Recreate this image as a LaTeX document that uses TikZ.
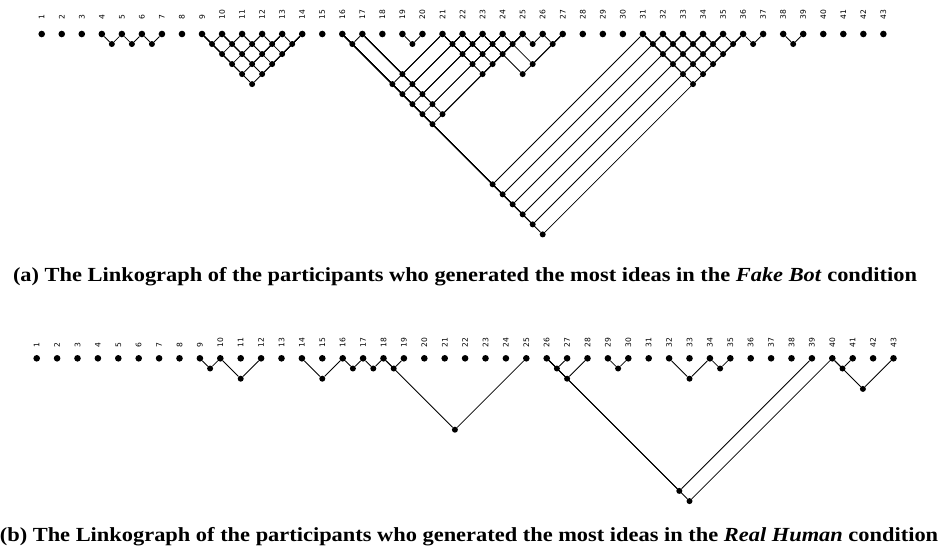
\documentclass[tikz,border=0pt]{standalone}
\usepackage{fontspec}
\usepackage{graphicx}
\setmainfont{Liberation Serif}
\newfontfamily\labfont{DejaVu Sans}
\usetikzlibrary{backgrounds}
\newsavebox\capboxa
\newsavebox\capboxb
\newcommand\capfont{\bfseries\fontsize{20}{24}\selectfont}
% top linkograph geometry
\newcommand\AX{41.7}\newcommand\AS{20.04}\newcommand\AY{34}\newcommand\AD{10.02}
% bottom linkograph geometry
\newcommand\BX{36.7}\newcommand\BS{20.4}\newcommand\BY{358.3}\newcommand\BD{10.2}
\newcommand\lkA[2]{%
  \node[jointdot] (a#1x#2) at ({\AX+((#1+#2)/2-1)*\AS},{\AY+(#2-#1)*\AD}) {};
  \begin{scope}[on background layer]\draw[lnk] (a#1) -- (a#1x#2) (a#2) -- (a#1x#2);\end{scope}}
\newcommand\lkB[2]{%
  \node[jointdot] (b#1x#2) at ({\BX+((#1+#2)/2-1)*\BS},{\BY+(#2-#1)*\BD}) {};
  \begin{scope}[on background layer]\draw[lnk] (b#1) -- (b#1x#2) (b#2) -- (b#1x#2);\end{scope}}
\begin{document}
\sbox\capboxa{\capfont (a) The Linkograph of the participants who generated the most ideas in the \textit{Fake Bot} condition}%
\sbox\capboxb{\capfont (b) The Linkograph of the participants who generated the most ideas in the \textit{Real Human} condition}%
\pgfmathsetmacro\capscale{904pt/\the\wd\capboxa}%
\begin{tikzpicture}[x=1pt,y=-1pt,
  ptdot/.style={circle,fill=black,inner sep=0pt,minimum size=6.6pt},
  jointdot/.style={circle,fill=black,inner sep=0pt,minimum size=6pt},
  lnk/.style={line width=0.85pt,black},
  numlab/.style={font=\labfont\fontsize{7.6}{8}\selectfont,rotate=90,anchor=west,inner sep=0pt},
  captext/.style={anchor=base,inner sep=0pt}]
\useasboundingbox (0,0) rectangle (939,554);
% ---- top: nodes and labels
\foreach \k in {1,...,43}{
  \node[ptdot] (a\k) at ({\AX+(\k-1)*\AS},\AY) {};
  \node[numlab] (la\k) at ({\AX+(\k-1)*\AS},19.5) {\k};
}
% ---- top: links
\lkA{4}{5}\lkA{5}{6}\lkA{6}{7}
\foreach \i in {9,...,13}{\pgfmathtruncatemacro\s{\i+1}\foreach \j in {\s,...,14}{\lkA{\i}{\j}}}
\lkA{16}{17}\lkA{19}{20}
\foreach \i in {16,17}{\foreach \j in {21,...,25}{\lkA{\i}{\j}}}
\foreach \i in {21,...,24}{\pgfmathtruncatemacro\s{\i+1}\foreach \j in {\s,...,25}{\lkA{\i}{\j}}}
\lkA{25}{26}\lkA{26}{27}\lkA{24}{27}\lkA{23}{27}
\foreach \j in {31,...,36}{\lkA{16}{\j}}
\foreach \i in {31,...,35}{\pgfmathtruncatemacro\s{\i+1}\foreach \j in {\s,...,36}{\lkA{\i}{\j}}}
\lkA{36}{37}\lkA{38}{39}
% ---- bottom: nodes and labels
\foreach \k in {1,...,43}{
  \node[ptdot] (b\k) at ({\BX+(\k-1)*\BS},\BY) {};
  \node[numlab] (lb\k) at ({\BX+(\k-1)*\BS},348) {\k};
}
% ---- bottom: links
\lkB{9}{10}\lkB{10}{12}\lkB{14}{16}\lkB{16}{17}\lkB{17}{18}\lkB{18}{19}\lkB{18}{25}
\lkB{26}{27}\lkB{26}{28}\lkB{26}{39}\lkB{26}{40}\lkB{29}{30}\lkB{32}{34}\lkB{34}{35}
\lkB{40}{41}\lkB{40}{43}
% ---- captions
\node[captext] (capa) at (465,281) {\scalebox{\capscale}[1.0]{\usebox\capboxa}};
\node[captext] (capb) at (469,541) {\scalebox{\capscale}[1.0]{\usebox\capboxb}};
\end{tikzpicture}
\end{document}
